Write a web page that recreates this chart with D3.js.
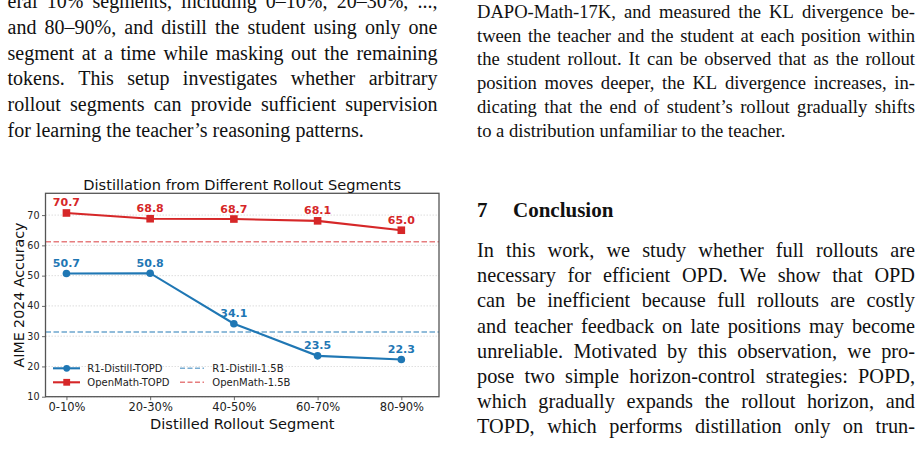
<!DOCTYPE html>
<html><head><meta charset="utf-8">
<script src="https://cdn.jsdelivr.net/npm/d3@7"></script>
<style>
html,body{margin:0;padding:0;background:#fff;}
svg{display:block;}
</style></head>
<body>
<svg id="page" width="923" height="458"></svg>
<script>
// ---------- chart data ----------
const categories = ['0-10%', '20-30%', '40-50%', '60-70%', '80-90%'];
const r1DistillTopd = [50.7, 50.8, 34.1, 23.5, 22.3];
const openMathTopd = [70.7, 68.8, 68.7, 68.1, 65.0];
const r1DistillBase = [31.4];
const openMathBase = [61.2];
const yTicks = [10, 20, 30, 40, 50, 60, 70];
const seriesNames = ['R1-Distill-TOPD', 'OpenMath-TOPD'];
const baseNames = ['R1-Distill-1.5B', 'OpenMath-1.5B'];

// ---------- page text ----------
const leftLines = [
  'eral 10% segments, including 0–10%, 20–30%, ...,',
  'and 80–90%, and distill the student using only one',
  'segment at a time while masking out the remaining',
  'tokens.  This setup investigates whether arbitrary',
  'rollout segments can provide sufficient supervision',
  'for learning the teacher’s reasoning patterns.'
];
const rightTopLines = [
  'DAPO-Math-17K, and measured the KL divergence be-',
  'tween the teacher and the student at each position within',
  'the student rollout. It can be observed that as the rollout',
  'position moves deeper, the KL divergence increases, in-',
  'dicating that the end of student’s rollout gradually shifts',
  'to a distribution unfamiliar to the teacher.'
];
const conclusionLines = [
  'In this work, we study whether full rollouts are',
  'necessary for efficient OPD. We show that OPD',
  'can be inefficient because full rollouts are costly',
  'and teacher feedback on late positions may become',
  'unreliable. Motivated by this observation, we pro-',
  'pose two simple horizon-control strategies: POPD,',
  'which gradually expands the rollout horizon, and',
  'TOPD, which performs distillation only on trun-'
];

const svg = d3.select('#page');
const serif = '"Liberation Serif", "Times New Roman", serif';
const sans = '"DejaVu Sans", sans-serif';

function paragraph(lines, x0, x1, y0, lh, size, lastJustify) {
  const g = svg.append('g').attr('font-family', serif).attr('font-size', size).attr('fill', '#111');
  lines.forEach((line, i) => {
    const yy = y0 + i * lh;
    const words = line.split(/ +/);
    const justify = (i < lines.length - 1) || lastJustify;
    const nodes = words.map(w => g.append('text').attr('y', yy).text(w));
    const widths = nodes.map(n => n.node().getComputedTextLength());
    const total = d3.sum(widths);
    const space = size * 0.25;
    const gap = justify && words.length > 1 ? (x1 - x0 - total) / (words.length - 1) : space;
    let xx = x0;
    nodes.forEach((n, k) => { n.attr('x', xx); xx += widths[k] + gap; });
  });
}

paragraph(leftLines, 7.5, 437.5, 8, 25.8, 20, false);
paragraph(rightTopLines, 477, 915, 18, 23.7, 18.6, false);
paragraph(conclusionLines, 477, 915, 257, 25.2, 20.3, true);

svg.append('text').attr('x', 477).attr('y', 217).attr('font-family', serif)
  .attr('font-weight', 'bold').attr('font-size', 21).attr('fill', '#111').text('7');
svg.append('text').attr('x', 513).attr('y', 217).attr('font-family', serif)
  .attr('font-weight', 'bold').attr('font-size', 21).attr('fill', '#111').text('Conclusion');

// ---------- chart ----------
const L = 45.5, R = 439, T = 193.3, B = 396.7;
const x = d3.scaleLinear().domain([-0.25, 4.45]).range([L, R]);
const y = d3.scaleLinear().domain([10, 77.2]).range([B, T]);
const blue = '#1f77b4', red = '#d62728';

const chart = svg.append('g').attr('font-family', sans);

// grid
chart.append('g').selectAll('line').data(yTicks).join('line')
  .attr('x1', L).attr('x2', R).attr('y1', d => y(d)).attr('y2', d => y(d))
  .attr('stroke', '#cccccc').attr('stroke-width', 0.8).attr('stroke-dasharray', '1.5,1.5').attr('opacity', 0.8);

// baselines
chart.append('line').attr('x1', L).attr('x2', R).attr('y1', y(r1DistillBase[0])).attr('y2', y(r1DistillBase[0]))
  .attr('stroke', blue).attr('stroke-opacity', 0.65).attr('stroke-width', 1.5).attr('stroke-dasharray', '5.5,2.5');
chart.append('line').attr('x1', L).attr('x2', R).attr('y1', y(openMathBase[0])).attr('y2', y(openMathBase[0]))
  .attr('stroke', red).attr('stroke-opacity', 0.6).attr('stroke-width', 1.5).attr('stroke-dasharray', '5.5,2.5');

const line = d3.line().x((d, i) => x(i)).y(d => y(d));
chart.append('path').datum(r1DistillTopd).attr('d', line).attr('fill', 'none').attr('stroke', blue).attr('stroke-width', 2.1);
chart.append('path').datum(openMathTopd).attr('d', line).attr('fill', 'none').attr('stroke', red).attr('stroke-width', 2.1);

chart.append('g').selectAll('circle').data(r1DistillTopd).join('circle')
  .attr('cx', (d, i) => x(i)).attr('cy', d => y(d)).attr('r', 3.8).attr('fill', blue);
chart.append('g').selectAll('rect').data(openMathTopd).join('rect')
  .attr('x', (d, i) => x(i) - 3.8).attr('y', d => y(d) - 3.8).attr('width', 7.6).attr('height', 7.6).attr('fill', red);

// value labels
chart.append('g').selectAll('text').data(r1DistillTopd).join('text')
  .attr('x', (d, i) => x(i)).attr('y', d => y(d) - 6.5).attr('text-anchor', 'middle')
  .attr('font-size', 11).attr('font-weight', 'bold').attr('fill', blue).text(d => d.toFixed(1));
chart.append('g').selectAll('text').data(openMathTopd).join('text')
  .attr('x', (d, i) => x(i)).attr('y', d => y(d) - 6.5).attr('text-anchor', 'middle')
  .attr('font-size', 11).attr('font-weight', 'bold').attr('fill', red).text(d => d.toFixed(1));

// axes
const xAxis = d3.axisBottom(x).tickValues(d3.range(categories.length)).tickFormat(i => categories[i]).tickSize(3.5).tickPadding(2.5);
const yAxis = d3.axisLeft(y).tickValues(yTicks).tickSize(3.5).tickPadding(2.5);
const gx = chart.append('g').attr('transform', `translate(0,${B})`).call(xAxis);
const gy = chart.append('g').attr('transform', `translate(${L},0)`).call(yAxis);
[gx, gy].forEach(g => {
  g.select('.domain').remove();
  g.selectAll('.tick line').attr('stroke', '#444').attr('stroke-width', 0.8);
  g.selectAll('.tick text').attr('font-family', sans).attr('fill', '#222');
});
gx.selectAll('.tick text').attr('font-size', 11.5);
gy.selectAll('.tick text').attr('font-size', 9.6);

// frame
chart.append('rect').attr('x', L).attr('y', T).attr('width', R - L).attr('height', B - T)
  .attr('fill', 'none').attr('stroke', '#555').attr('stroke-width', 1.3);

// titles
chart.append('text').attr('x', (L + R) / 2).attr('y', 189.5).attr('text-anchor', 'middle')
  .attr('font-size', 14.6).attr('fill', '#111').text('Distillation from Different Rollout Segments');
chart.append('text').attr('x', (L + R) / 2).attr('y', 428.5).attr('text-anchor', 'middle')
  .attr('font-size', 14.6).attr('fill', '#111').text('Distilled Rollout Segment');
chart.append('text').attr('transform', `translate(23.5,${(T + B) / 2}) rotate(-90)`).attr('text-anchor', 'middle')
  .attr('font-size', 14.2).attr('fill', '#111').text('AIME 2024 Accuracy');

// legend
const leg = chart.append('g').attr('font-size', 10).attr('fill', '#222');
const legRows = [368.3, 382.3];
[[blue, 'circle'], [red, 'square']].forEach(([c, m], i) => {
  const yy = legRows[i];
  leg.append('line').attr('x1', 53).attr('x2', 80).attr('y1', yy).attr('y2', yy).attr('stroke', c).attr('stroke-width', 2.1);
  if (m === 'circle') leg.append('circle').attr('cx', 66.7).attr('cy', yy).attr('r', 3.4).attr('fill', c);
  else leg.append('rect').attr('x', 63.3).attr('y', yy - 3.4).attr('width', 6.8).attr('height', 6.8).attr('fill', c);
  leg.append('text').attr('x', 87.3).attr('y', yy + 3.6).text(seriesNames[i]);
  leg.append('line').attr('x1', 180).attr('x2', 204).attr('y1', yy).attr('y2', yy).attr('stroke', c)
    .attr('stroke-opacity', 0.6).attr('stroke-width', 1.5).attr('stroke-dasharray', '5,2.5');
  leg.append('text').attr('x', 212.3).attr('y', yy + 3.6).text(baseNames[i]);
});
</script>
</body></html>
